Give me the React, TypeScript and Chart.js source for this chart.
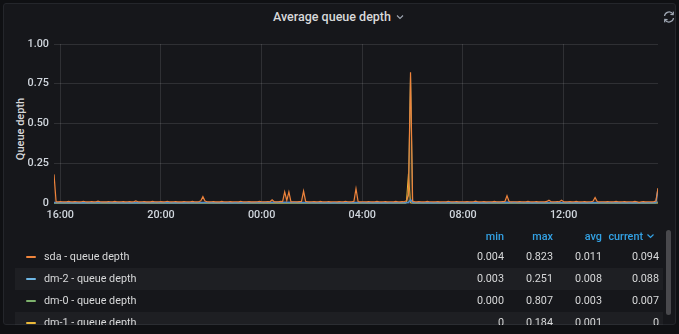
import React, { useEffect, useRef } from 'react';
import { Chart, registerables } from 'chart.js';

Chart.register(...registerables);

// Time axis in minutes since midnight of the first day (15:45 -> 15:45 next day)
const START_MIN = 945;
const STEP_MIN = 5;
const X_MIN = 945;
const X_MAX = 2385;
const X_TICKS = [960, 1200, 1440, 1680, 1920, 2160];
const X_TICK_LABELS = ['16:00', '20:00', '00:00', '04:00', '08:00', '12:00'];
const Y_TICKS = [0, 0.25, 0.5, 0.75, 1];
const Y_TICK_LABELS = ['0', '0.25', '0.50', '0.75', '1.00'];

// sda - 5 minute samples
const sdaValues = [
  0.18, 0.008, 0.007, 0.009, 0.008, 0.007, 0.008, 0.010, 0.008, 0.007, 0.009, 0.008,
  0.007, 0.008, 0.011, 0.008, 0.007, 0.008, 0.009, 0.007, 0.008, 0.012, 0.008, 0.007,
  0.008, 0.007, 0.009, 0.008, 0.007, 0.010, 0.008, 0.007, 0.008, 0.009, 0.007, 0.008,
  0.009, 0.007, 0.008, 0.013, 0.008, 0.007, 0.008, 0.009, 0.007, 0.008, 0.007, 0.010,
  0.008, 0.007, 0.008, 0.009, 0.007, 0.008, 0.011, 0.008, 0.007, 0.008, 0.009, 0.007,
  0.008, 0.007, 0.009, 0.008, 0.007, 0.008, 0.010, 0.008, 0.007, 0.008, 0.014, 0.040,
  0.012, 0.008, 0.007, 0.008, 0.009, 0.007, 0.008, 0.007, 0.010, 0.008, 0.007, 0.008,
  0.009, 0.007, 0.008, 0.008, 0.007, 0.011, 0.008, 0.007, 0.008, 0.009, 0.007, 0.008,
  0.007, 0.008, 0.010, 0.008, 0.007, 0.008, 0.009, 0.008, 0.020, 0.008, 0.007, 0.008,
  0.010, 0.009, 0.070, 0.016, 0.070, 0.007, 0.008, 0.008, 0.007, 0.009, 0.010, 0.075,
  0.010, 0.008, 0.007, 0.008, 0.009, 0.007, 0.008, 0.010, 0.008, 0.007, 0.008, 0.009,
  0.007, 0.008, 0.008, 0.007, 0.009, 0.008, 0.007, 0.011, 0.008, 0.007, 0.008, 0.010,
  0.090, 0.009, 0.007, 0.008, 0.008, 0.007, 0.009, 0.008, 0.007, 0.008, 0.010, 0.008,
  0.007, 0.008, 0.009, 0.007, 0.008, 0.008, 0.007, 0.010, 0.008, 0.007, 0.009, 0.008,
  0.014, 0.050, 0.823, 0.012, 0.008, 0.007, 0.009, 0.008, 0.007, 0.008, 0.010, 0.008,
  0.008, 0.007, 0.008, 0.009, 0.007, 0.008, 0.008, 0.007, 0.011, 0.008, 0.007, 0.008,
  0.009, 0.007, 0.008, 0.008, 0.007, 0.009, 0.008, 0.007, 0.008, 0.012, 0.008, 0.007,
  0.008, 0.009, 0.007, 0.008, 0.008, 0.007, 0.010, 0.008, 0.007, 0.008, 0.009, 0.010,
  0.045, 0.009, 0.007, 0.008, 0.008, 0.007, 0.009, 0.008, 0.007, 0.008, 0.010, 0.008,
  0.007, 0.008, 0.009, 0.007, 0.008, 0.008, 0.007, 0.010, 0.018, 0.008, 0.007, 0.008,
  0.009, 0.008, 0.018, 0.008, 0.007, 0.008, 0.009, 0.007, 0.008, 0.010, 0.008, 0.007,
  0.008, 0.009, 0.007, 0.008, 0.008, 0.011, 0.035, 0.009, 0.007, 0.008, 0.008, 0.007,
  0.009, 0.008, 0.007, 0.008, 0.010, 0.008, 0.007, 0.008, 0.009, 0.007, 0.008, 0.008,
  0.007, 0.010, 0.008, 0.004, 0.008, 0.009, 0.007, 0.008, 0.008, 0.007, 0.009, 0.012,
  0.094,
];

// [minute, value] samples
const dm2Points: [number, number][] = [
  [945, 0.003], [1005, 0.002], [1065, 0.003], [1125, 0.002], [1185, 0.003], [1245, 0.002],
  [1305, 0.003], [1365, 0.002], [1425, 0.003], [1485, 0.004], [1545, 0.003], [1605, 0.002],
  [1665, 0.003], [1725, 0.002], [1790, 0.003], [1795, 0.02], [1800, 0.003], [1845, 0.002],
  [1905, 0.003], [1965, 0.002], [2025, 0.004], [2085, 0.002], [2145, 0.003], [2205, 0.002],
  [2265, 0.003], [2325, 0.002], [2380, 0.003], [2385, 0.088],
];
const dm0Points: [number, number][] = [
  [945, 0], [1785, 0], [1790, 0.06], [1795, 0.807], [1800, 0], [2380, 0], [2385, 0.007],
];
const dm1Points: [number, number][] = [
  [945, 0], [1785, 0], [1790, 0.184], [1795, 0], [2385, 0],
];

const seriesNames = ['sda - queue depth', 'dm-2 - queue depth', 'dm-0 - queue depth', 'dm-1 - queue depth'];
const seriesColors = ['#EF843C', '#3F8FDD', '#7EB26D', '#EAB839'];
const legendColors = ['#EF843C', '#6fb8e6', '#7EB26D', '#EAB839'];
const statMin = ['0.004', '0.003', '0.000', '0'];
const statMax = ['0.823', '0.251', '0.807', '0.184'];
const statAvg = ['0.011', '0.008', '0.003', '0.001'];
const statCurrent = ['0.094', '0.088', '0.007', '0'];
const statHeaders = ['min', 'max', 'avg', 'current'];

const GRID = 'rgba(255,255,255,0.11)';
const TEXT = '#d8d9da';
const TICK = '#d0d6dd';
const BLUE = '#33a2e5';

function hexA(hex: string, a: number) {
  const n = parseInt(hex.slice(1), 16);
  return `rgba(${(n >> 16) & 255},${(n >> 8) & 255},${n & 255},${a})`;
}

export default function App() {
  const ref = useRef<HTMLCanvasElement | null>(null);

  useEffect(() => {
    if (!ref.current) return;
    const series = [
      sdaValues.map((v, i) => ({ x: START_MIN + i * STEP_MIN, y: v })),
      dm2Points.map(([x, y]) => ({ x, y })),
      dm0Points.map(([x, y]) => ({ x, y })),
      dm1Points.map(([x, y]) => ({ x, y })),
    ];
    const chart = new Chart(ref.current, {
      type: 'line',
      data: {
        datasets: series.map((d, i) => ({
          label: seriesNames[i],
          data: d,
          borderColor: seriesColors[i],
          backgroundColor: hexA(seriesColors[i], 0.1),
          borderWidth: i === 0 ? 1.2 : i === 1 ? 1.5 : 1,
          pointRadius: 0,
          tension: 0,
          fill: 'origin',
          clip: { left: 0, right: 0, top: 0, bottom: 2 },
        })),
      },
      options: {
        animation: false,
        responsive: false,
        events: [],
        layout: { padding: { top: 14, right: 5, bottom: 5, left: 0 } },
        plugins: { legend: { display: false }, tooltip: { enabled: false }, title: { display: false } },
        scales: {
          x: {
            type: 'linear',
            min: X_MIN,
            max: X_MAX,
            afterFit: (s: any) => { s.height = 22; },
            afterBuildTicks: (s: any) => { s.ticks = X_TICKS.map((v) => ({ value: v })); },
            border: { display: false },
            grid: { color: GRID, drawTicks: false },
            ticks: {
              padding: 6,
              color: TICK,
              font: { family: 'Roboto', size: 10.8, weight: '500' },
              maxRotation: 0,
              autoSkip: false,
              callback: (v: any) => X_TICK_LABELS[X_TICKS.indexOf(Number(v))] ?? '',
            },
          },
          y: {
            min: 0,
            max: 1,
            afterFit: (s: any) => { s.width = 51; },
            afterBuildTicks: (s: any) => { s.ticks = Y_TICKS.map((v) => ({ value: v })); },
            border: { display: false },
            grid: { color: GRID, drawTicks: false },
            ticks: {
              padding: 5,
              color: TICK,
              font: { family: 'Roboto', size: 10.8, weight: '500' },
              callback: (v: any) => Y_TICK_LABELS[Y_TICKS.indexOf(Number(v))] ?? '',
            },
          },
        },
      },
    } as any);
    return () => chart.destroy();
  }, []);

  const colRight = [504, 553, 602, 659];
  const stats = [statMin, statMax, statAvg, statCurrent];

  return (
    <div style={{ position: 'relative', width: 679, height: 334, background: '#0f1013', overflow: 'hidden', fontFamily: 'Roboto, sans-serif' }}>
      <style>{`body{margin:0;background:#0f1013;}`}</style>
      {/* panel */}
      <div style={{ position: 'absolute', left: 3, top: 3, width: 673, height: 322, boxSizing: 'border-box', background: '#16171b', border: '1px solid #24262b', borderRadius: 3, overflow: 'hidden' }} />
      {/* title */}
      <div style={{ position: 'absolute', left: 0, top: 9, width: 679, height: 16, display: 'flex', justifyContent: 'center', alignItems: 'center' }}>
        <span style={{ color: TEXT, fontSize: 12.5, fontWeight: 500, lineHeight: '16px' }}>Average queue depth</span>
        <svg width="12" height="8" viewBox="0 0 12 8" style={{ marginLeft: 3 }}>
          <polyline points="3,2.5 6,5.5 9,2.5" fill="none" stroke="#9fa7b3" strokeWidth="1.1" />
        </svg>
      </div>
      {/* refresh icon */}
      <svg width="14" height="14" viewBox="0 0 14 14" style={{ position: 'absolute', left: 662, top: 10 }}>
        <path d="M2.5 6 A4.6 4.6 0 0 1 11 4.2" fill="none" stroke="#9fa7b3" strokeWidth="1.2" />
        <polyline points="11.4,1.6 11.2,4.5 8.4,4.3" fill="none" stroke="#9fa7b3" strokeWidth="1.2" />
        <path d="M11.5 8 A4.6 4.6 0 0 1 3 9.8" fill="none" stroke="#9fa7b3" strokeWidth="1.2" />
        <polyline points="2.6,12.4 2.8,9.5 5.6,9.7" fill="none" stroke="#9fa7b3" strokeWidth="1.2" />
      </svg>
      {/* y axis title */}
      <div style={{ position: 'absolute', left: 20, top: 129, transform: 'translate(-50%,-50%) rotate(-90deg)', whiteSpace: 'nowrap', color: TEXT, fontSize: 11, fontWeight: 500, lineHeight: '13px' }}>
        Queue depth
      </div>
      {/* chart */}
      <canvas ref={ref} width={660} height={200} style={{ position: 'absolute', left: 3, top: 30, width: 660, height: 200 }} />
      {/* legend */}
      <div style={{ position: 'absolute', left: 0, top: 227, width: 679, height: 98, overflow: 'hidden' }}>
        {statHeaders.map((h, c) => (
          <div key={h} style={{ position: 'absolute', top: 0, height: 19, lineHeight: '19px', left: colRight[c] - 70, width: 70, textAlign: 'right', color: BLUE, fontSize: 10.8, fontWeight: 500, paddingRight: c === 3 ? 4 : 0, boxSizing: 'border-box' }}>
            {h}
            {c === 3 && (
              <svg width="9" height="6" viewBox="0 0 9 6" style={{ marginLeft: 3, verticalAlign: 1 }}>
                <polyline points="1.5,1.5 4.5,4.5 7.5,1.5" fill="none" stroke={BLUE} strokeWidth="1.2" />
              </svg>
            )}
          </div>
        ))}
        {seriesNames.map((name, r) => (
          <div key={name} style={{ position: 'absolute', left: 15, top: 19 + r * 22, width: 648, height: 22, background: r % 2 === 1 ? 'rgba(255,255,255,0.035)' : 'transparent' }}>
            <div style={{ position: 'absolute', left: 11, top: 10, width: 10, height: 2, borderRadius: 1, background: legendColors[r] }} />
            <div style={{ position: 'absolute', left: 29, top: 0, lineHeight: '22px', color: TEXT, fontSize: 10.8, whiteSpace: 'nowrap' }}>{name}</div>
            {stats.map((s, c) => (
              <div key={c} style={{ position: 'absolute', top: 0, left: colRight[c] - 15 - 60, width: 60, textAlign: 'right', lineHeight: '22px', color: TEXT, fontSize: 10.8 }}>{s[r]}</div>
            ))}
          </div>
        ))}
      </div>
      {/* scrollbar */}
      <div style={{ position: 'absolute', left: 666, top: 230, width: 5, height: 85, borderRadius: 3, background: 'rgba(255,255,255,0.22)' }} />
    </div>
  );
}
